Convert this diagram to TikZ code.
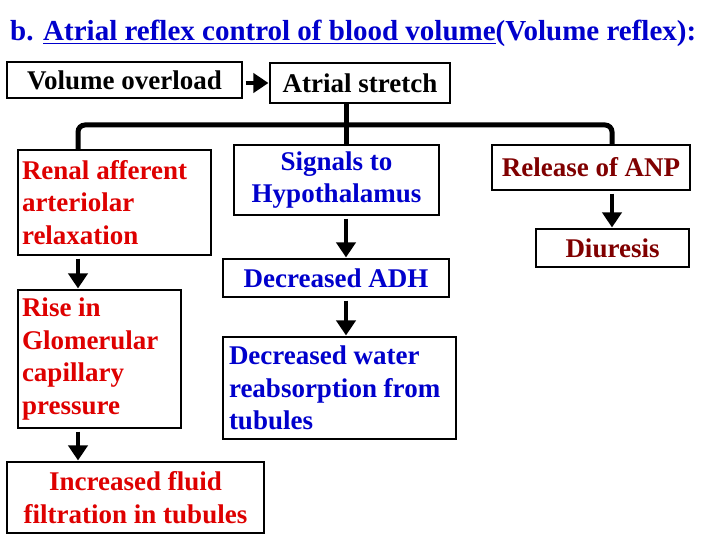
\documentclass[tikz,border=0pt]{standalone}
\usepackage{fontspec}
\setmainfont{Liberation Serif}
\usetikzlibrary{arrows.meta}
\definecolor{tblue}{RGB}{0,0,204}
\definecolor{tred}{RGB}{222,0,0}
\definecolor{tdred}{RGB}{128,0,0}
\begin{document}
\begin{tikzpicture}[x=1pt,y=-1pt,
  box/.style={draw,line width=1.1pt,fill=white,inner sep=0pt,font=\fontsize{27}{32.5}\selectfont\bfseries},
  arr/.style={line width=4.5pt,-{Triangle[width=19pt,length=15pt]},shorten <=3pt,shorten >=1pt},
  br/.style={line width=5pt}]
\useasboundingbox (0,0) rectangle (720,540);
\node[anchor=base west,text=tblue,inner sep=0pt,font=\fontsize{29}{34}\selectfont\bfseries] (title) at (10,41)
  {b. \underline{Atrial reflex control of blood volume}(Volume reflex):};
\node[box,minimum width=235,minimum height=36] (ov) at (124.5,80) {Volume overload};
\node[box,minimum width=180,minimum height=40] (st) at (360,83) {Atrial stretch};
\node[box,minimum width=193,minimum height=105,text width=185,align=flush left,text=tred] (ren) at (114.5,202.5) {Renal afferent\\arteriolar\\relaxation};
\node[box,minimum width=205,minimum height=70,align=center,text=tblue] (sig) at (336.5,180) {Signals to\\Hypothalamus};
\node[box,minimum width=198,minimum height=45,text=tdred] (anp) at (591,167.5) {Release of ANP};
\node[box,minimum width=153,minimum height=38,text=tdred] (diu) at (612.5,248) {Diuresis};
\node[box,minimum width=226,minimum height=38,text=tblue] (adh) at (336,278) {Decreased ADH};
\node[box,minimum width=233,minimum height=102,text width=221,align=flush left,text=tblue] (wat) at (339.5,388) {Decreased water\\reabsorption from\\tubules};
\node[box,minimum width=163,minimum height=138,text width=155,align=flush left,text=tred] (rise) at (99.5,359) {Rise in\\Glomerular\\capillary\\pressure};
\node[box,minimum width=257,minimum height=71,align=center,text=tred] (inc) at (135.5,497.5) {Increased fluid\\filtration in tubules};
\coordinate (xl) at (78,0);
\coordinate (xm) at (346,0);
\coordinate (xr) at (612,0);
\coordinate (yb) at (0,125);
\draw[arr] (ov.east |- st.west) -- (st.west);
\draw[br,rounded corners=7pt] (xl |- ren.north) -- (xl |- yb) -- (xr |- yb) -- (xr |- anp.north);
\draw[br] (xm |- st.south) -- (xm |- sig.north);
\draw[arr] (xl |- ren.south) -- (xl |- rise.north);
\draw[arr] (xl |- rise.south) -- (xl |- inc.north);
\draw[arr] (xm |- sig.south) -- (xm |- adh.north);
\draw[arr] (xm |- adh.south) -- (xm |- wat.north);
\draw[arr] (xr |- anp.south) -- (xr |- diu.north);
\end{tikzpicture}
\end{document}
